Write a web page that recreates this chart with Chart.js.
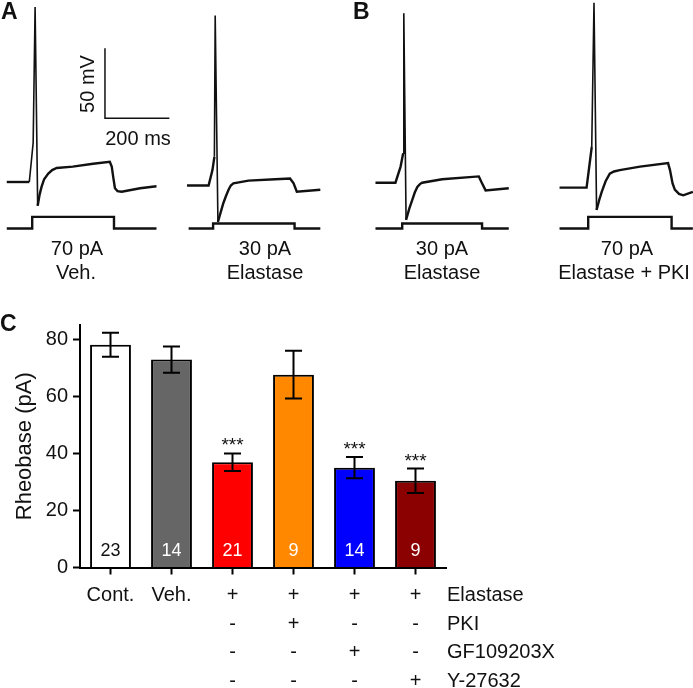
<!DOCTYPE html>
<html>
<head>
<meta charset="utf-8">
<script src="https://cdn.jsdelivr.net/npm/chart.js@4.4.0/dist/chart.umd.min.js"></script>
<style>
  html, body { margin: 0; padding: 0; background: #fff; }
  #page { position: relative; width: 693px; height: 688px; overflow: hidden; font-family: "Liberation Sans", Arial, sans-serif; color: #111; }
  canvas { position: absolute; top: 0; }
  .lbl { position: absolute; transform: translate(-50%, -50%); font-size: 20px; line-height: 1; white-space: nowrap; }
  .panel { position: absolute; font-weight: bold; font-size: 23px; line-height: 1; }
</style>
</head>
<body>
<div id="page">
  <canvas id="traceVeh" width="180" height="238" style="left:0px"></canvas>
  <canvas id="traceElaA" width="180" height="238" style="left:178px"></canvas>
  <canvas id="traceElaB" width="180" height="238" style="left:370px"></canvas>
  <canvas id="tracePki" width="180" height="238" style="left:556px"></canvas>
  <canvas id="barChart" width="693" height="688" style="left:0px"></canvas>

  <div class="panel" style="left:1px; top:0px">A</div>
  <div class="panel" style="left:353px; top:0px">B</div>
  <div class="panel" style="left:0px; top:312px">C</div>

  <div class="lbl" style="left:87px; top:84px; transform:translate(-50%,-50%) rotate(-90deg)">50 mV</div>
  <div class="lbl" style="left:138px; top:138px">200 ms</div>

  <div class="lbl" style="left:77px; top:248px">70 pA</div>
  <div class="lbl" style="left:76px; top:272px">Veh.</div>
  <div class="lbl" style="left:265px; top:248px">30 pA</div>
  <div class="lbl" style="left:265px; top:272px">Elastase</div>
  <div class="lbl" style="left:442px; top:248px">30 pA</div>
  <div class="lbl" style="left:442px; top:272px">Elastase</div>
  <div class="lbl" style="left:627px; top:248px">70 pA</div>
  <div class="lbl" style="left:624px; top:272px">Elastase + PKI</div>
</div>

<script>
// --- panel A/B traces: time (ms) vs membrane potential (mV), injected current (pA)
const vehTime = [-79, -9, 3, 9, 17, 23, 29, 37, 50, 62, 76, 126, 189, 241, 247, 252, 257, 265, 278, 335, 386];
const vehVm   = [-65, -65, -37, 60, -82, -74, -68.5, -63, -59, -56.5, -55, -54, -52, -50.5, -54, -62, -69.5, -71.5, -72, -69.5, -68];
const vehCurT = [-79, 0, 0, 254, 254, 386];
const vehCurI = [0, 0, 70, 70, 0, 0];

const elaATime = [-72, -5, 7, 13, 15.5, 24, 32, 41, 49, 57, 64, 72, 119, 202, 248, 259, 269, 342];
const elaAVm   = [-67.5, -67.5, -56.5, -47, 54, -93.5, -87, -80, -75, -70.5, -67.5, -66, -64, -63, -62.5, -66, -72, -70.5];
const elaACurT = [-67, 9, 9, 262, 262, 342];
const elaACurI = [0, 0, 30, 30, 0, 0];

const elaBTime = [-83, -21, -5, 3, 5, 12, 22, 31, 39, 47, 55, 62, 124, 238, 246, 259, 331];
const elaBVm   = [-65.5, -65.5, -54, -44.5, 55.5, -92, -84, -78, -72.5, -68.5, -66.5, -65.5, -63, -61, -65, -71, -69.5];
const elaBCurT = [-83, 0, 0, 248, 248, 331];
const elaBCurI = [0, 0, 30, 30, 0, 0];

const pkiTime = [-89, -5, 11, 18, 26, 34, 42, 54, 67, 80, 98, 161, 248, 254, 262, 269, 282, 295, 325];
const pkiVm   = [-69, -69, -40, 63, -85, -78, -72, -64.5, -59, -57.5, -56.5, -54, -51.5, -56.5, -66, -70.5, -73.5, -74.5, -72];
const pkiCurT = [-89, 0, 0, 259, 259, 325];
const pkiCurI = [0, 0, 70, 70, 0, 0];

// scale bar: 50 mV / 200 ms
const scaleBarT = [226, 226, 426];
const scaleBarV = [30.5, -19.5, -19.5];

// --- panel C
const groups = [['Cont.'], ['Veh.'], ['+', '-', '-', '-'], ['+', '+', '-', '-'], ['+', '-', '+', '-'], ['+', '-', '-', '+']];
const treatmentNames = ['Elastase', 'PKI', 'GF109203X', 'Y-27632'];
const rheobaseMean = [78.1, 72.9, 36.9, 67.6, 35.0, 30.4];
const rheobaseSem = [4.2, 4.6, 3.1, 8.4, 3.7, 4.3];
const cellCounts = [23, 14, 21, 9, 14, 9];
const significant = [false, false, true, false, true, true];
const barColors = ['#ffffff', '#666666', '#ff0000', '#ff8800', '#0000ff', '#8b0000'];
const yTicks = [0, 20, 40, 60, 80];

const FONT = '"Liberation Sans", Arial, sans-serif';
Chart.defaults.font.family = FONT;

function pts(xs, ys) {
    return xs.map((x, i) => ({x: x, y: ys[i]}));
}

// spike segments are drawn thin, the noisy baseline/plateau thicker
function spikeWidth(ctx) {
    return (ctx.p0.parsed.y > -40 || ctx.p1.parsed.y > -40) ? 1.6 : 2.4;
}

function traceChart(id, t, vm, curT, curI, extra) {
    let datasets = [
        {data: pts(t, vm), yAxisID: 'y', borderColor: '#111', borderWidth: 2.4, pointRadius: 0, clip: false,
            segment: {borderWidth: spikeWidth}},
        {data: pts(curT, curI), yAxisID: 'yI', borderColor: '#111', borderWidth: 2.4, pointRadius: 0, clip: false}
    ];
    if (extra) datasets.push(extra);
    return new Chart(document.getElementById(id), {
        type: 'scatter',
        data: {datasets: datasets},
        options: {
            responsive: false,
            animation: false,
            devicePixelRatio: 1,
            showLine: true,
            layout: {padding: 0},
            plugins: {legend: {display: false}, tooltip: {enabled: false}},
            scales: {
                x: {type: 'linear', display: false, min: -100, max: 459},
                y: {display: false, min: -105, max: 65},
                yI: {display: false, min: -57, max: 1371}
            }
        }
    });
}

traceChart('traceVeh', vehTime, vehVm, vehCurT, vehCurI, {
    data: pts(scaleBarT, scaleBarV), yAxisID: 'y', borderColor: '#111', borderWidth: 1.5, pointRadius: 0
});
traceChart('traceElaA', elaATime, elaAVm, elaACurT, elaACurI);
traceChart('traceElaB', elaBTime, elaBVm, elaBCurT, elaBCurI);
traceChart('tracePki', pkiTime, pkiVm, pkiCurT, pkiCurI);

const barExtras = {
    id: 'barExtras',
    afterDatasetsDraw(chart) {
        const {ctx, scales: {x, y}} = chart;
        const bars = chart.getDatasetMeta(0).data;
        ctx.save();
        ctx.strokeStyle = '#000';
        ctx.lineWidth = 2;
        bars.forEach((bar, i) => {
            let top = y.getPixelForValue(rheobaseMean[i] + rheobaseSem[i]);
            let bot = y.getPixelForValue(rheobaseMean[i] - rheobaseSem[i]);
            ctx.beginPath();
            ctx.moveTo(bar.x, top); ctx.lineTo(bar.x, bot);
            ctx.moveTo(bar.x - 8.5, top); ctx.lineTo(bar.x + 8.5, top);
            ctx.moveTo(bar.x - 8.5, bot); ctx.lineTo(bar.x + 8.5, bot);
            ctx.stroke();

            ctx.font = '18px ' + FONT;
            ctx.textAlign = 'center';
            ctx.textBaseline = 'middle';
            ctx.fillStyle = i === 0 ? '#111' : '#fff';
            ctx.fillText(String(cellCounts[i]), bar.x, y.bottom - 16);

            if (significant[i]) {
                ctx.font = '19px ' + FONT;
                ctx.fillStyle = '#111';
                ctx.textBaseline = 'alphabetic';
                ctx.fillText('***', bar.x, top - 13 + 11);
            }
        });
        ctx.font = '20px ' + FONT;
        ctx.textAlign = 'left';
        ctx.textBaseline = 'middle';
        ctx.fillStyle = '#111';
        treatmentNames.forEach((name, k) => {
            ctx.fillText(name, x.right + 1, x.top + 7 + 7 + 14.25 + k * 28.5);
        });
        ctx.restore();
    }
};

new Chart(document.getElementById('barChart'), {
    type: 'bar',
    data: {
        labels: groups,
        datasets: [{
            data: rheobaseMean,
            backgroundColor: barColors,
            borderColor: '#000',
            borderWidth: 2,
            barPercentage: 0.67,
            categoryPercentage: 1
        }]
    },
    options: {
        responsive: false,
        animation: false,
        devicePixelRatio: 1,
        layout: {padding: {left: 0, top: 325, right: 247, bottom: 0}},
        plugins: {legend: {display: false}, tooltip: {enabled: false}},
        scales: {
            x: {
                grid: {display: true, drawOnChartArea: false, offset: false, tickLength: 7, tickWidth: 2, tickColor: '#000'},
                border: {color: '#000', width: 2},
                ticks: {color: '#111', font: {size: 20, lineHeight: 1.425}, padding: 7, autoSkip: false, maxRotation: 0},
                afterFit: s => { s.height = 120.5; }
            },
            y: {
                min: 0,
                max: 85,
                afterBuildTicks: s => { s.ticks = yTicks.map(v => ({value: v})); },
                grid: {display: true, drawOnChartArea: false, tickLength: 7, tickWidth: 2, tickColor: '#000'},
                border: {color: '#000', width: 2},
                ticks: {color: '#111', font: {size: 20}, padding: 5},
                title: {display: true, text: 'Rheobase (pA)', color: '#111', font: {size: 22}, padding: {top: 12, bottom: 0}},
                afterFit: s => { s.width = 80; }
            }
        }
    },
    plugins: [barExtras]
});
</script>
</body>
</html>
